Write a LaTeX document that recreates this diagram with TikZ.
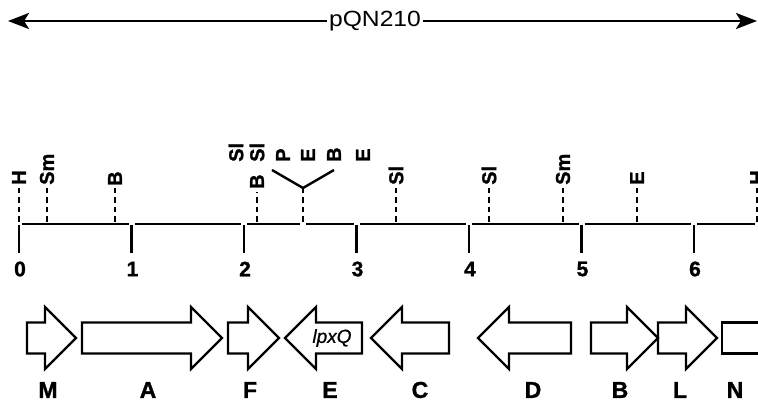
\documentclass[tikz,border=0pt]{standalone}
\usepackage{fontspec}
\setmainfont{Liberation Sans}
\newfontfamily\hvb{Liberation Sans}[BoldFeatures={FakeBold=1.2},ItalicFeatures={FakeBold=0.8}]
\usetikzlibrary{arrows.meta}
\begin{document}
\begin{tikzpicture}[x=1pt,y=-1pt,
  axisline/.style={line width=2.2pt},
  ticker/.style={line width=2.8pt},
  sitedash/.style={line width=2.4pt,dash pattern=on 5.5pt off 4pt},
  sitelab/.style={rotate=90,anchor=west,inner sep=0pt,font=\hvb\fontsize{20}{20}\selectfont\bfseries},
  numlab/.style={inner sep=0pt,font=\hvb\fontsize{21}{21}\selectfont\bfseries},
  genelab/.style={inner sep=0pt,font=\hvb\fontsize{23}{23}\selectfont\bfseries},
  gene/.style={line width=2.2pt,line join=miter},
  bigarrow/.style={line width=2.8pt,-{Stealth[length=21pt,width=16pt,inset=5pt]}}]
\useasboundingbox (0,0) rectangle (758,403);
\clip (0,0) rectangle (758,403);

% title arrow
\node[inner sep=1.5pt] (title) at (375,21) {\fontsize{22}{22}\selectfont\scalebox{1.12}[1]{pQN210}};
\coordinate (tl) at (8,21);
\coordinate (tr) at (757,21);
\draw[bigarrow] (title.west) -- (tl);
\draw[bigarrow] (title.east) -- (tr);

% axis segments
\foreach \a/\b [count=\i] in {22/128.5, 134.5/241, 247/300, 306/353.5, 359.5/466, 472/578.5, 584.5/691, 697/755}
  \draw[axisline] (\a,224) -- (\b,224);

% ticks and numbers
\foreach \k in {0,...,6}{
  \coordinate (tk\k) at ({19+112.5*\k},225);
  \coordinate (tb\k) at ({19+112.5*\k},253);
  \draw[ticker] (tk\k) -- (tb\k);
  \node[numlab] (num\k) at ({20+112.5*\k},269) {\k};
}

% single restriction sites
\foreach \x/\t/\top/\lb [count=\i] in {19/H/187/185, 47/Sm/187/185, 115/B/187/186, 257/B/192/189,
    396/Sl/187/185, 489/Sl/187/185, 563/Sm/187/185, 637/E/187/185, 757/H/187/185}{
  \coordinate (sb\i) at (\x,222);
  \coordinate (st\i) at (\x,\top);
  \draw[sitedash] (sb\i) -- (st\i);
  \node[sitelab] (site\i) at (\x,\lb) {\t};
}

% cluster
\coordinate (cb) at (303,222);
\coordinate (cv) at (303,188);
\coordinate (cl) at (272,170);
\coordinate (cr) at (334,170);
\draw[sitedash] (cb) -- (cv);
\draw[line width=2.4pt] (cl) -- (cv) -- (cr);
\foreach \x/\t [count=\i] in {236/Sl, 257/Sl, 283/P, 308/E, 334/B, 363/E}
  \node[sitelab] (cs\i) at (\x,162) {\t};

% genes pointing right
\foreach \a/\b/\c in {27/45/76, 82/191/222, 228/248/279, 591/627/658, 658/686/717}
  \draw[gene] (\a,322.5) -- (\b,322.5) -- (\b,307) -- (\c,338) -- (\b,369) -- (\b,353.5) -- (\a,353.5) -- cycle;
% genes pointing left
\foreach \a/\b/\c in {285/316/362, 371/402/449, 478/509/571}
  \draw[gene] (\c,322.5) -- (\b,322.5) -- (\b,307) -- (\a,338) -- (\b,369) -- (\b,353.5) -- (\c,353.5) -- cycle;
% partial gene N
\draw[gene] (775,322.5) -- (722,322.5) -- (722,353.5) -- (775,353.5);

\node[inner sep=0pt,font=\hvb\fontsize{19}{19}\selectfont\itshape] (lpxq) at (332,338) {lpxQ};

% gene labels
\foreach \x/\t in {48/M, 148/A, 250/F, 330/E, 420/C, 533/D, 620/B, 680/L, 735/N}
  \node[genelab] (g\t\x) at (\x,390) {\t};
\end{tikzpicture}
\end{document}
